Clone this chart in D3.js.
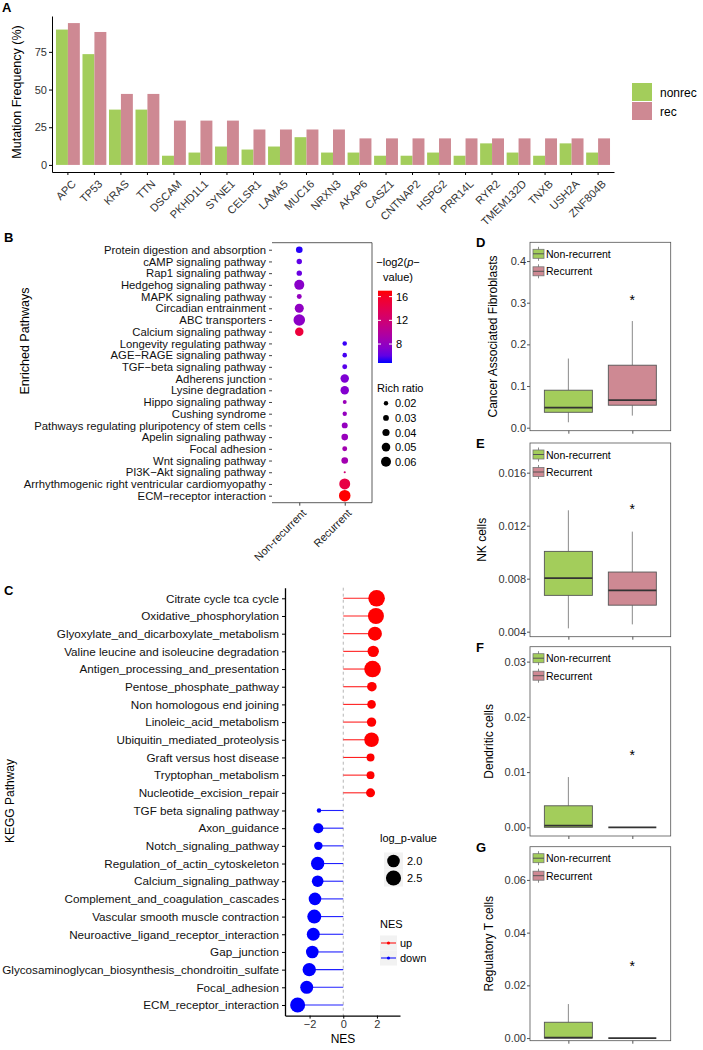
<!DOCTYPE html>
<html>
<head>
<meta charset="utf-8">
<script src="https://cdn.jsdelivr.net/npm/d3@7"></script>
<style>
  body { margin: 0; background: #fff; }
  text { font-family: "Liberation Sans", Arial, sans-serif; }
</style>
</head>
<body>
<svg id="fig" width="703" height="1050"></svg>
<script>
// ---------- data ----------
// panel A: mutation frequency (%) per gene
const genes = ["APC","TP53","KRAS","TTN","DSCAM","PKHD1L1","SYNE1","CELSR1","LAMA5","MUC16","NRXN3",
               "AKAP6","CASZ1","CNTNAP2","HSPG2","PRR14L","RYR2","TMEM132D","TNXB","USH2A","ZNF804B"];
const nonrecFreq = [89.8,73.5,36.7,36.7,6.1,8.2,12.2,10.2,12.2,18.4,8.2,8.2,6.1,6.1,8.2,6.1,14.3,8.2,6.1,14.3,8.2];
const recFreq    = [94.1,88.2,47.1,47.1,29.4,29.4,29.4,23.5,23.5,23.5,23.5,17.6,17.6,17.6,17.6,17.6,17.6,17.6,17.6,17.6,17.6];

// panel B: enriched pathways
const pathB = ["Protein digestion and absorption","cAMP signaling pathway","Rap1 signaling pathway",
  "Hedgehog signaling pathway","MAPK signaling pathway","Circadian entrainment","ABC transporters",
  "Calcium signaling pathway","Longevity regulating pathway","AGE\u2212RAGE signaling pathway",
  "TGF\u2212beta signaling pathway","Adherens junction","Lysine degradation","Hippo signaling pathway",
  "Cushing syndrome","Pathways regulating pluripotency of stem cells","Apelin signaling pathway",
  "Focal adhesion","Wnt signaling pathway","PI3K\u2212Akt signaling pathway",
  "Arrhythmogenic right ventricular cardiomyopathy","ECM\u2212receptor interaction"];
const groupB = ["Non-recurrent","Non-recurrent","Non-recurrent","Non-recurrent","Non-recurrent","Non-recurrent",
  "Non-recurrent","Non-recurrent","Recurrent","Recurrent","Recurrent","Recurrent","Recurrent","Recurrent",
  "Recurrent","Recurrent","Recurrent","Recurrent","Recurrent","Recurrent","Recurrent","Recurrent"];
const richB = [0.036,0.027,0.027,0.060,0.024,0.053,0.071,0.049,0.021,0.021,0.024,0.049,0.049,0.017,
               0.020,0.031,0.036,0.024,0.036,0.004,0.067,0.071];
const logpB = [5.0,6.0,6.3,7.5,8.0,7.8,7.6,15.0,5.2,5.4,5.8,7.0,7.2,8.3,8.0,8.0,8.2,8.8,8.8,12.0,14.5,17.0];
const richTicks = [0.02,0.03,0.04,0.05,0.06];
const logpTicks = [8,12,16];

// panel C: GSEA KEGG pathways
const pathC = ["Citrate cycle tca cycle","Oxidative_phosphorylation","Glyoxylate_and_dicarboxylate_metabolism",
  "Valine leucine and isoleucine degradation","Antigen_processing_and_presentation","Pentose_phosphate_pathway",
  "Non homologous end joining","Linoleic_acid_metabolism","Ubiquitin_mediated_proteolysis",
  "Graft versus host disease","Tryptophan_metabolism","Nucleotide_excision_repair",
  "TGF beta signaling pathway","Axon_guidance","Notch_signaling_pathway","Regulation_of_actin_cytoskeleton",
  "Calcium_signaling_pathway","Complement_and_coagulation_cascades","Vascular smooth muscle contraction",
  "Neuroactive_ligand_receptor_interaction","Gap_junction","Glycosaminoglycan_biosynthesis_chondroitin_sulfate",
  "Focal_adhesion","ECM_receptor_interaction"];
const nesC = [1.98,1.94,1.88,1.78,1.74,1.70,1.68,1.68,1.68,1.62,1.62,1.62,
              -1.44,-1.48,-1.48,-1.52,-1.52,-1.68,-1.72,-1.78,-1.84,-2.02,-2.17,-2.71];
const logpC = [2.85,2.70,2.26,1.81,2.85,1.58,1.48,1.56,2.38,1.43,1.43,1.52,
               1.30,1.63,1.47,2.14,1.84,2.00,2.26,2.07,2.00,2.14,2.07,2.47];
const logpCTicks = [2.0,2.5];

// panels D-G: immune cell fractions (whisker low, Q1, median, Q3, whisker high)
const cellTypes = ["Cancer Associated Fibroblasts","NK cells","Dendritic cells","Regulatory T cells"];
const panelLetters = ["D","E","F","G"];
const nonrecBox = [[0.013,0.037,0.048,0.090,0.166],
                   [0.00425,0.00674,0.00804,0.01006,0.01316],
                   [0.0,0.0,0.0003,0.0039,0.0091],
                   [0.0,0.0,0.0002,0.0060,0.0129]];
const recBox    = [[0.029,0.054,0.066,0.150,0.256],
                   [0.00455,0.0060,0.00711,0.0085,0.01155],
                   [0,0,0,0,0],
                   [0,0,0,0,0]];
const starY     = [0.314,0.01349,0.01367,0.0286];
const boxTicks  = [[0,0.1,0.2,0.3,0.4],[0.004,0.008,0.012,0.016],[0,0.01,0.02,0.03],[0,0.02,0.04,0.06]];
const boxFormats = [".1f",".3f",".2f",".2f"];

// ---------- drawing ----------
const svg = d3.select("#fig");
const green = "#a3cd5b", pink = "#ce8993";

function letter(t, x, y) {
  svg.append("text").attr("x", x).attr("y", y).text(t)
    .style("font-size", "13px").style("font-weight", "bold");
}

// ===== Panel A =====
letter("A", 2, 12);
const xA = d3.scaleBand().domain(genes).range([52, 614]).paddingInner(0).paddingOuter(0.1);
const subA = d3.scaleBand().domain(["nonrec","rec"]).range([0, xA.bandwidth()]).paddingOuter(0.111);
const yA = d3.scaleLinear().domain([-4.7, 98.8]).range([172, 16]);
const gA = svg.append("g");

gA.selectAll(".barN").data(genes).enter().append("rect")
  .attr("x", d => xA(d) + subA("nonrec")).attr("width", subA.bandwidth())
  .attr("y", (d, i) => yA(nonrecFreq[i])).attr("height", (d, i) => yA(0) - yA(nonrecFreq[i]))
  .attr("fill", green);
gA.selectAll(".barR").data(genes).enter().append("rect")
  .attr("x", d => xA(d) + subA("rec")).attr("width", subA.bandwidth())
  .attr("y", (d, i) => yA(recFreq[i])).attr("height", (d, i) => yA(0) - yA(recFreq[i]))
  .attr("fill", pink);

const axA = gA.append("g").attr("transform", "translate(52,0)")
  .call(d3.axisLeft(yA).tickValues([0,25,50,75]).tickSize(3).tickSizeOuter(0).tickPadding(2));
axA.selectAll("text").style("font-size", "11px").attr("fill", "#333");
const axAx = gA.append("g").attr("transform", "translate(0,172)")
  .call(d3.axisBottom(xA).tickSize(3).tickSizeOuter(0));
axAx.selectAll("text").style("font-size", "11px").attr("fill", "#333")
  .attr("text-anchor", "end").attr("dy", null).attr("y", null)
  .attr("transform", "translate(3,7) rotate(-45)").attr("dominant-baseline", "hanging");
gA.selectAll(".domain").attr("stroke", "#000");

svg.append("text").attr("transform", "translate(21,92) rotate(-90)").attr("text-anchor", "middle")
  .style("font-size", "12.5px").text("Mutation Frequency (%)");

// legend A
[["nonrec", green], ["rec", pink]].forEach((d, i) => {
  svg.append("rect").attr("x", 632).attr("y", 83 + i * 19).attr("width", 20).attr("height", 18).attr("fill", d[1]);
  svg.append("text").attr("x", 660).attr("y", 97 + i * 19).style("font-size", "12px").text(d[0]);
});

// ===== Panel B =====
letter("B", 4, 242);
const xB = d3.scalePoint().domain(["Non-recurrent","Recurrent"]).range([272, 372]).padding(0.6);
const yB = d3.scalePoint().domain(pathB).range([242.7, 502.7]).padding(0.6);
const colB = d3.scaleLinear().domain([4.8, 17]).range(["blue", "red"]).interpolate(d3.interpolateLab);
const rB = d3.scaleLinear().domain([0.02, 0.06]).range([2.2, 5.0]);
const gB = svg.append("g");

gB.append("path").attr("d", "M272,242.7H372V502.7H272").attr("fill", "none").attr("stroke", "#333").attr("stroke-width", 0.8);

gB.selectAll("circle").data(pathB).enter().append("circle")
  .attr("cx", (d, i) => xB(groupB[i])).attr("cy", d => yB(d))
  .attr("r", (d, i) => Math.max(0.9, rB(richB[i]))).attr("fill", (d, i) => colB(logpB[i]));

const axB = gB.append("g").attr("transform", "translate(272,0)")
  .call(d3.axisLeft(yB).tickSize(3).tickPadding(3));
axB.select(".domain").remove();
axB.selectAll("text").style("font-size", "11.3px").attr("fill", "#111");
axB.selectAll("line").attr("stroke", "#444");
const axBx = gB.append("g").attr("transform", "translate(0,502.7)")
  .call(d3.axisBottom(xB).tickSize(3));
axBx.select(".domain").remove();
axBx.selectAll("line").attr("stroke", "#444");
axBx.selectAll("text").style("font-size", "11px").attr("fill", "#222")
  .attr("text-anchor", "end").attr("y", null).attr("dy", null)
  .attr("transform", "translate(5,9) rotate(-45)").attr("dominant-baseline", "middle");

svg.append("text").attr("transform", "translate(29,341) rotate(-90)").attr("text-anchor", "middle")
  .style("font-size", "12.5px").text("Enriched Pathways");

// colour bar legend
const lg = svg.append("g");
lg.append("text").attr("x", 398).attr("y", 266).attr("text-anchor", "middle").style("font-size", "11px")
  .html('\u2212log2(<tspan font-style="italic">p</tspan>\u2212');
lg.append("text").attr("x", 398).attr("y", 281).attr("text-anchor", "middle").style("font-size", "11px").text("value)");
const yCol = d3.scaleLinear().domain([4.8, 17]).range([363, 290.7]);
const grad = svg.append("defs").append("linearGradient").attr("id", "gradB")
  .attr("x1", 0).attr("y1", 1).attr("x2", 0).attr("y2", 0);
d3.range(0, 1.0001, 0.1).forEach(t => {
  grad.append("stop").attr("offset", t).attr("stop-color", colB(4.8 + t * (17 - 4.8)));
});
lg.append("rect").attr("x", 378).attr("y", 290.7).attr("width", 14).attr("height", 363 - 290.7).attr("fill", "url(#gradB)");
logpTicks.forEach(v => {
  lg.append("line").attr("x1", 378).attr("x2", 381).attr("y1", yCol(v)).attr("y2", yCol(v)).attr("stroke", "#fff");
  lg.append("line").attr("x1", 389).attr("x2", 392).attr("y1", yCol(v)).attr("y2", yCol(v)).attr("stroke", "#fff");
  lg.append("text").attr("x", 396).attr("y", yCol(v) + 4).style("font-size", "11px").text(v);
});
lg.append("text").attr("x", 377).attr("y", 392).style("font-size", "11px").text("Rich ratio");
richTicks.forEach((v, i) => {
  const cy = 403.3 + i * 14.6;
  lg.append("circle").attr("cx", 386).attr("cy", cy).attr("r", rB(v)).attr("fill", "#000");
  lg.append("text").attr("x", 395).attr("y", cy + 4).style("font-size", "11px").text(v.toFixed(2));
});

// ===== Panel C =====
letter("C", 4, 595);
const yC = d3.scalePoint().domain(pathC).range([587.7, 1015.6]).padding(0.6);
const xC = d3.scaleLinear().domain([-3.46, 3.37]).range([285, 400]);
const sC = d3.scaleSqrt().domain([0, 1.6]).range([2.2, 8.4]);
const rC = v => sC(Math.max(0, v - 1.3));
const gC = svg.append("g");

gC.append("line").attr("x1", xC(0)).attr("x2", xC(0)).attr("y1", 587.7).attr("y2", 1015.6)
  .attr("stroke", "#b5b5b5").attr("stroke-dasharray", "3,3");
gC.selectAll(".seg").data(pathC).enter().append("line")
  .attr("x1", xC(0)).attr("x2", (d, i) => xC(nesC[i]))
  .attr("y1", d => yC(d)).attr("y2", d => yC(d))
  .attr("stroke", (d, i) => nesC[i] > 0 ? "#ff2020" : "#2020ff").attr("stroke-width", 1.1);
gC.selectAll(".dot").data(pathC).enter().append("circle")
  .attr("cx", (d, i) => xC(nesC[i])).attr("cy", d => yC(d))
  .attr("r", (d, i) => rC(logpC[i])).attr("fill", (d, i) => nesC[i] > 0 ? "#ff0000" : "#0000ff");

const axC = gC.append("g").attr("transform", "translate(285,0)")
  .call(d3.axisLeft(yC).tickSize(3).tickSizeOuter(0).tickPadding(3));
axC.selectAll("text").style("font-size", "11.7px").attr("fill", "#111");
const axCx = gC.append("g").attr("transform", "translate(0,1015.6)")
  .call(d3.axisBottom(xC).tickValues([-2, 0, 2]).tickFormat(d3.format("d")).tickSize(3).tickSizeOuter(0).tickPadding(2));
axCx.selectAll("text").style("font-size", "11px").attr("fill", "#333");
gC.selectAll(".domain").attr("stroke", "#000").attr("stroke-width", 1.3);

svg.append("text").attr("x", 343).attr("y", 1043).attr("text-anchor", "middle").style("font-size", "12px").text("NES");
svg.append("text").attr("transform", "translate(14,801) rotate(-90)").attr("text-anchor", "middle")
  .style("font-size", "12px").text("KEGG Pathway");

// legend C
const lc = svg.append("g");
lc.append("text").attr("x", 380).attr("y", 842).style("font-size", "11px").text("log_p-value");
logpCTicks.forEach((v, i) => {
  const cy = 861 + i * 17;
  lc.append("rect").attr("x", 384).attr("y", cy - 8.5).attr("width", 19).attr("height", 17).attr("fill", "#f2f2f2");
  lc.append("circle").attr("cx", 393.5).attr("cy", cy).attr("r", rC(v)).attr("fill", "#000");
  lc.append("text").attr("x", 407).attr("y", cy + 4).style("font-size", "11px").text(v.toFixed(1));
});
lc.append("text").attr("x", 380).attr("y", 928).style("font-size", "11px").text("NES");
[["up", "#ff0000"], ["down", "#0000ff"]].forEach((d, i) => {
  const cy = 943 + i * 15;
  lc.append("rect").attr("x", 380).attr("y", cy - 7.5).attr("width", 17).attr("height", 15).attr("fill", "#f2f2f2");
  lc.append("line").attr("x1", 381).attr("x2", 396).attr("y1", cy).attr("y2", cy).attr("stroke", d[1]);
  lc.append("circle").attr("cx", 388.5).attr("cy", cy).attr("r", 1.6).attr("fill", d[1]);
  lc.append("text").attr("x", 400).attr("y", cy + 4).style("font-size", "11px").text(d[0]);
});

// ===== Panels D-G =====
const boxPanels = [
  { top: 242.3, bottom: 430.7, domain: [-0.0072, 0.445], titleX: 497 },
  { top: 443.0, bottom: 636.7, domain: [0.00362, 0.01824], titleX: 486 },
  { top: 646.7, bottom: 836.0, domain: [-0.00157, 0.0327], titleX: 493 },
  { top: 846.7, bottom: 1040.7, domain: [-0.001, 0.0726], titleX: 493 }
];
const xBox = d3.scalePoint().domain(["Non-recurrent","Recurrent"]).range([530, 670.7]).padding(0.6);
const boxW = 48;

boxPanels.forEach((p, k) => {
  const g = svg.append("g");
  const y = d3.scaleLinear().domain(p.domain).range([p.bottom, p.top]);
  letter(panelLetters[k], 476, p.top + 5);

  g.append("rect").attr("x", 530).attr("y", p.top).attr("width", 140.7).attr("height", p.bottom - p.top)
    .attr("fill", "none").attr("stroke", "#555").attr("stroke-width", 0.8);

  [[nonrecBox[k], green, "Non-recurrent"], [recBox[k], pink, "Recurrent"]].forEach(b => {
    const s = b[0], cx = xBox(b[2]);
    g.append("line").attr("x1", cx).attr("x2", cx).attr("y1", y(s[0])).attr("y2", y(s[1])).attr("stroke", "#8a8a8a");
    g.append("line").attr("x1", cx).attr("x2", cx).attr("y1", y(s[3])).attr("y2", y(s[4])).attr("stroke", "#8a8a8a");
    g.append("rect").attr("x", cx - boxW / 2).attr("width", boxW)
      .attr("y", y(s[3])).attr("height", Math.max(0, y(s[1]) - y(s[3])))
      .attr("fill", b[1]).attr("stroke", "#555").attr("stroke-width", 0.9);
    g.append("line").attr("x1", cx - boxW / 2).attr("x2", cx + boxW / 2)
      .attr("y1", y(s[2])).attr("y2", y(s[2])).attr("stroke", "#333").attr("stroke-width", 1.8);
  });

  g.append("text").attr("x", xBox("Recurrent")).attr("y", y(starY[k]) + 8).attr("text-anchor", "middle")
    .style("font-size", "14px").text("*");

  const ay = g.append("g").attr("transform", "translate(530,0)")
    .call(d3.axisLeft(y).tickValues(boxTicks[k]).tickFormat(d3.format(boxFormats[k])).tickSize(3).tickPadding(1));
  ay.select(".domain").remove();
  ay.selectAll("text").style("font-size", "11px").attr("fill", "#333");
  ay.selectAll("line").attr("stroke", "#555");
  const ax = g.append("g").attr("transform", `translate(0,${p.bottom})`)
    .call(d3.axisBottom(xBox).tickSize(3).tickFormat(""));
  ax.select(".domain").remove();
  ax.selectAll("line").attr("stroke", "#555");

  svg.append("text").attr("transform", `translate(${p.titleX},${(p.top + p.bottom) / 2}) rotate(-90)`)
    .attr("text-anchor", "middle").style("font-size", "12px").text(cellTypes[k]);

  // legend keys
  [["Non-recurrent", green], ["Recurrent", pink]].forEach((d, i) => {
    const cy = p.top + 11.5 + i * 17.5, kx = 538.5;
    g.append("line").attr("x1", kx).attr("x2", kx).attr("y1", cy - 7).attr("y2", cy + 7).attr("stroke", "#8a8a8a");
    g.append("rect").attr("x", kx - 5.5).attr("y", cy - 4.5).attr("width", 11).attr("height", 9)
      .attr("fill", d[1]).attr("stroke", "#777").attr("stroke-width", 0.8);
    g.append("line").attr("x1", kx - 5.5).attr("x2", kx + 5.5).attr("y1", cy).attr("y2", cy).attr("stroke", "#555");
    g.append("text").attr("x", 546).attr("y", cy + 4).style("font-size", "10.5px").text(d[0]);
  });
});
</script>
</body>
</html>
